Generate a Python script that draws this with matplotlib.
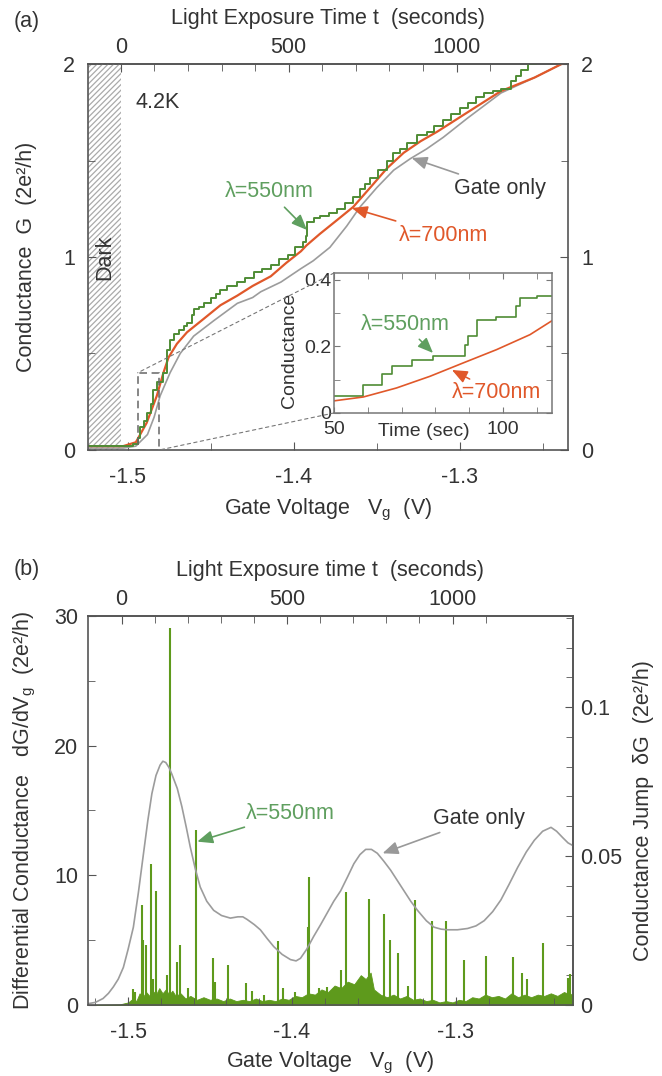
import numpy as np
import matplotlib
matplotlib.use("Agg")
import matplotlib.pyplot as plt
from matplotlib.patches import Rectangle, ConnectionPatch
from matplotlib.ticker import MultipleLocator

plt.rcParams['font.family'] = ['Liberation Sans', 'DejaVu Sans']
plt.rcParams['mathtext.fontset'] = 'custom'
plt.rcParams['mathtext.rm'] = 'Liberation Sans'
plt.rcParams['mathtext.it'] = 'Liberation Sans:italic'
plt.rcParams['hatch.linewidth'] = 0.9

# ---- panel (a): conductance vs gate voltage ----
gate_v = [-1.5238, -1.5026, -1.4950, -1.4880, -1.4840, -1.4804, -1.4744, -1.4683, -1.4602,
          -1.4481, -1.4339, -1.4247, -1.4198, -1.4077, -1.3956, -1.3883, -1.3782, -1.3681,
          -1.3600, -1.3499, -1.3398, -1.3297, -1.3200, -1.3100, -1.2953, -1.2752, -1.2550,
          -1.2388, -1.2300]
gate_g = [0.01, 0.01, 0.02, 0.08, 0.17, 0.28, 0.40, 0.50, 0.59,
          0.67, 0.76, 0.79, 0.82, 0.87, 0.94, 0.98, 1.05, 1.16,
          1.26, 1.36, 1.45, 1.51, 1.56, 1.62, 1.72, 1.85, 1.93,
          2.00, 2.03]

red_v = [-1.5238, -1.5026, -1.4950, -1.4885, -1.4824, -1.4784, -1.4753, -1.4703, -1.4642,
         -1.4541, -1.4441, -1.4339, -1.4247, -1.4138, -1.4044, -1.3956, -1.3923, -1.3842,
         -1.3741, -1.3641, -1.3539, -1.3438, -1.3338, -1.3236, -1.3135, -1.2953, -1.2752,
         -1.2550, -1.2388, -1.2300]
red_g = [0.02, 0.02, 0.04, 0.14, 0.28, 0.40, 0.48, 0.55, 0.61,
         0.68, 0.75, 0.80, 0.85, 0.90, 0.97, 1.03, 1.06, 1.12,
         1.19, 1.26, 1.36, 1.46, 1.54, 1.60, 1.65, 1.75, 1.86,
         1.93, 2.00, 2.03]

green_v = [-1.5238, -1.5026, -1.4970, -1.4935, -1.4925, -1.4900, -1.4885, -1.4860, -1.4844,
           -1.4820, -1.4784, -1.4764, -1.4744, -1.4720, -1.4690, -1.4660, -1.4642, -1.4610,
           -1.4602, -1.4570, -1.4541, -1.4500, -1.4470, -1.4441, -1.4400, -1.4339, -1.4290,
           -1.4238, -1.4190, -1.4138, -1.4090, -1.4036, -1.3990, -1.3944, -1.3925, -1.3919,
           -1.3880, -1.3842, -1.3790, -1.3741, -1.3690, -1.3641, -1.3600, -1.3570, -1.3539,
           -1.3490, -1.3438, -1.3400, -1.3358, -1.3320, -1.3256, -1.3200, -1.3156, -1.3100,
           -1.3055, -1.3000, -1.2953, -1.2900, -1.2853, -1.2800, -1.2752, -1.2691, -1.2660,
           -1.2630, -1.2590, -1.2540]
green_g = [0.02, 0.02, 0.03, 0.06, 0.12, 0.15, 0.19, 0.24, 0.31,
           0.35, 0.40, 0.52, 0.57, 0.60, 0.62, 0.64, 0.66, 0.70,
           0.73, 0.74, 0.76, 0.79, 0.81, 0.83, 0.85, 0.87, 0.89,
           0.92, 0.94, 0.96, 0.99, 1.01, 1.05, 1.08, 1.11, 1.18,
           1.20, 1.21, 1.23, 1.25, 1.28, 1.31, 1.35, 1.38, 1.41,
           1.45, 1.50, 1.54, 1.56, 1.59, 1.63, 1.65, 1.68, 1.71,
           1.74, 1.77, 1.80, 1.83, 1.85, 1.86, 1.87, 1.91, 1.94,
           1.97, 2.00, 2.03]

# inset: conductance vs exposure time (seconds)
ins_green_t = [49, 58.7, 64.1, 67.1, 73.0, 79.4, 86.3, 88.8, 89.7, 92.2, 98.0, 104.0, 105.0, 110.0, 115]
ins_green_g = [0.050, 0.083, 0.118, 0.140, 0.160, 0.170, 0.172, 0.205, 0.230, 0.280, 0.287, 0.320, 0.345, 0.350, 0.352]
ins_red_t = [49, 58.7, 68.5, 78.4, 88.2, 98.1, 108.0, 115]
ins_red_g = [0.035, 0.048, 0.075, 0.110, 0.150, 0.190, 0.235, 0.280]

# ---- panel (b): differential conductance ----
gate_dv = [-1.5245, -1.5200, -1.5153, -1.5120, -1.5090, -1.5060, -1.5029, -1.5000, -1.4968,
           -1.4937, -1.4906, -1.4880, -1.4855, -1.4830, -1.4805, -1.4788, -1.4770, -1.4750,
           -1.4733, -1.4700, -1.4672, -1.4645, -1.4621, -1.4590, -1.4560, -1.4520, -1.4478,
           -1.4430, -1.4376, -1.4330, -1.4300, -1.4274, -1.4230, -1.4193, -1.4150, -1.4111,
           -1.4060, -1.4009, -1.3975, -1.3948, -1.3910, -1.3867, -1.3825, -1.3785, -1.3745,
           -1.3703, -1.3660, -1.3622, -1.3585, -1.3550, -1.3515, -1.3479, -1.3440, -1.3398,
           -1.3357, -1.3316, -1.3275, -1.3234, -1.3180, -1.3133, -1.3090, -1.3051, -1.2990,
           -1.2928, -1.2877, -1.2827, -1.2775, -1.2725, -1.2675, -1.2623, -1.2570, -1.2521,
           -1.2470, -1.2419, -1.2385, -1.2347, -1.2315, -1.2286]
gate_dg = [0.1, 0.2, 0.5, 0.9, 1.4, 2.0, 2.9, 4.3, 6.0,
           8.7, 11.7, 14.2, 16.3, 17.7, 18.5, 18.8, 18.7, 18.3,
           17.8, 16.7, 15.3, 13.7, 12.2, 10.5, 9.1, 8.0, 7.3,
           6.9, 6.7, 6.8, 6.8, 6.6, 6.2, 5.8, 5.1, 4.5,
           3.9, 3.5, 3.4, 3.6, 4.3, 5.3, 6.2, 7.1, 8.0,
           8.8, 9.9, 10.9, 11.6, 12.0, 12.0, 11.7, 11.1, 10.4,
           9.6, 8.8, 8.0, 7.3, 6.5, 6.0, 5.85, 5.8, 5.8,
           5.9, 6.1, 6.5, 7.2, 8.1, 9.3, 10.6, 11.8, 12.7,
           13.4, 13.7, 13.4, 12.9, 12.5, 12.3]

spike_v = [-1.4971, -1.4955, -1.4916, -1.4910, -1.4890, -1.4859, -1.4849, -1.4831, -1.4763,
           -1.4747, -1.4702, -1.4682, -1.4637, -1.4584, -1.4482, -1.4468, -1.4393, -1.4280,
           -1.4243, -1.4172, -1.4087, -1.4054, -1.3979, -1.3903, -1.3897, -1.3835, -1.3785,
           -1.3703, -1.3669, -1.3530, -1.3438, -1.3401, -1.3350, -1.3294, -1.3251, -1.3143,
           -1.3061, -1.2953, -1.2817, -1.2653, -1.2596, -1.2566, -1.2470, -1.2317, -1.2303]
spike_h = [1.2, 1.0, 7.7, 5.0, 4.6, 10.9, 2.0, 8.8, 2.3,
           29.1, 3.3, 4.6, 1.3, 13.5, 3.6, 1.8, 3.1, 1.7,
           1.1, 0.8, 4.9, 1.3, 1.0, 6.0, 9.9, 1.3, 1.4,
           2.7, 8.7, 8.2, 7.05, 5.0, 4.0, 1.5, 8.1, 6.5,
           6.5, 3.5, 3.8, 3.7, 2.5, 2.0, 4.8, 2.1, 2.4]

floor_v = [-1.525, -1.505, -1.500, -1.497, -1.495, -1.493, -1.491, -1.489, -1.487, -1.485,
           -1.483, -1.481, -1.479, -1.477, -1.475, -1.473, -1.471, -1.468, -1.465, -1.462,
           -1.458, -1.454, -1.450, -1.446, -1.442, -1.438, -1.434, -1.430, -1.426, -1.422,
           -1.418, -1.414, -1.410, -1.406, -1.402, -1.398, -1.394, -1.390, -1.386, -1.382,
           -1.378, -1.374, -1.370, -1.366, -1.362, -1.358, -1.355, -1.352, -1.350, -1.346,
           -1.342, -1.338, -1.334, -1.330, -1.326, -1.322, -1.318, -1.314, -1.310, -1.306,
           -1.302, -1.298, -1.294, -1.290, -1.286, -1.282, -1.278, -1.274, -1.270, -1.266,
           -1.262, -1.258, -1.254, -1.250, -1.246, -1.242, -1.238, -1.234, -1.230, -1.227]
floor_h = [0.0, 0.05, 0.2, 0.5, 0.3, 0.9, 0.6, 1.0, 0.7, 1.1,
           0.8, 1.3, 0.9, 1.2, 0.8, 1.1, 0.7, 0.9, 0.5, 0.7,
           0.4, 0.6, 0.4, 0.5, 0.3, 0.5, 0.3, 0.4, 0.3, 0.5,
           0.3, 0.4, 0.3, 0.5, 0.4, 0.7, 0.6, 0.9, 0.8, 1.2,
           1.0, 1.5, 1.3, 1.8, 1.6, 2.3, 2.0, 2.5, 1.2, 0.8,
           0.6, 0.8, 0.5, 0.7, 0.4, 0.5, 0.3, 0.4, 0.2, 0.3,
           0.2, 0.4, 0.3, 0.6, 0.5, 0.8, 0.6, 0.7, 0.5, 0.9,
           0.6, 0.8, 0.6, 0.8, 0.7, 0.9, 0.7, 1.0, 0.8, 1.1]

# tick positions
time_major = [0, 500, 1000]
time_minor = [100, 200, 300, 400, 600, 700, 800, 900, 1100]

# gate voltage <-> exposure time (the gate is swept during illumination)
v_start = -1.504
v_rate = 0.000202  # V per second


def t_of_v(v):
    return (np.asarray(v) - v_start) / v_rate


def v_of_t(t):
    return v_start + np.asarray(t) * v_rate


c_green = '#4f8c35'
c_green_txt = '#5f9f5f'
c_red = '#e0582a'
c_gray = '#9c9c9c'
c_spike = '#5e9a1c'
c_axis = '#555555'
c_text = '#333333'
fs = 15.5
arrow = '-|>,head_length=0.6,head_width=0.25'

fig = plt.figure(figsize=(6.62, 10.76), dpi=100)


def style(ax, **kw):
    for s in ax.spines.values():
        s.set_color(c_axis)
        s.set_linewidth(1.2)
    ax.tick_params(which='both', direction='in', colors=c_axis, labelcolor=c_text,
                   labelsize=fs, **kw)
    ax.tick_params(which='major', length=6)
    ax.tick_params(which='minor', length=5)


# ================= panel (a) =================
ax1 = fig.add_axes([0.1329, 0.5818, 0.7251, 0.3587])
ax1.set_xlim(-1.5238, -1.2349)
ax1.set_ylim(0, 2)
ax1.axvspan(-1.5238, v_start, facecolor='none', edgecolor='#aaaaaa', hatch='//////', linewidth=0)
ax1.plot(gate_v, gate_g, color=c_gray, lw=1.2)
ax1.plot(red_v, red_g, color=c_red, lw=1.6)
ax1.step(green_v, green_g, where='post', color=c_green, lw=1.4)

ax1.set_xticks([-1.5, -1.4, -1.3])
ax1.set_xticklabels(['-1.5', '-1.4', '-1.3'])
ax1.xaxis.set_minor_locator(MultipleLocator(0.05))
ax1.yaxis.set_major_locator(MultipleLocator(1))
ax1.yaxis.set_minor_locator(MultipleLocator(0.5))
style(ax1, right=True, labelright=True)
ax1.tick_params(axis='x', pad=12.5)
ax1.tick_params(axis='y', pad=9.5)
ax1.set_xlabel(r'Gate Voltage   V$_\mathrm{g}$  (V)', fontsize=fs, color=c_text)
ax1.xaxis.set_label_coords(0.5, -0.122)
ax1.set_ylabel('Conductance  G  (2e²/h)', fontsize=fs, color=c_text)
ax1.yaxis.set_label_coords(-0.106, 0.5)

top1 = ax1.secondary_xaxis('top', functions=(t_of_v, v_of_t))
top1.set_xticks(time_major)
top1.set_xticks(time_minor, minor=True)
style(top1, pad=4)
top1.set_xlabel('Light Exposure Time t  (seconds)', fontsize=fs, color=c_text, labelpad=10)

ax1.text(-1.4955, 1.80, '4.2K', fontsize=fs, color=c_text, va='center', ha='left')
ax1.text(-1.5138, 1.0, 'Dark', fontsize=fs, color=c_text, rotation=90, va='center', ha='center')

ax1.annotate('λ=550nm', xy=(-1.392, 1.14), xytext=(-1.4146, 1.337), fontsize=fs,
             color=c_green_txt, ha='center', va='center',
             arrowprops=dict(arrowstyle=arrow, color=c_green_txt, lw=1.2, shrinkA=2, shrinkB=0))
ax1.annotate('λ=700nm', xy=(-1.365, 1.254), xytext=(-1.3099, 1.114), fontsize=fs,
             color=c_red, ha='center', va='center',
             arrowprops=dict(arrowstyle=arrow, color=c_red, lw=1.2, shrinkA=2, shrinkB=0))
ax1.annotate('Gate only', xy=(-1.329, 1.513), xytext=(-1.2758, 1.357), fontsize=fs,
             color=c_text, ha='center', va='center',
             arrowprops=dict(arrowstyle=arrow, color='#999999', lw=1.2, shrinkA=2, shrinkB=0))

# inset
ins = fig.add_axes([0.5045, 0.6162, 0.3293, 0.1301])
ins.set_facecolor('white')
ins.set_xlim(50, 114.5)
ins.set_ylim(0, 0.42)
ins.step(ins_green_t, ins_green_g, where='post', color=c_green, lw=1.2)
ins.plot(ins_red_t, ins_red_g, color=c_red, lw=1.2)
ins.xaxis.set_major_locator(MultipleLocator(50))
ins.xaxis.set_minor_locator(MultipleLocator(10))
ins.yaxis.set_minor_locator(MultipleLocator(0.1))
for s in ins.spines.values():
    s.set_color('#777777')
    s.set_linewidth(1.1)
ins.tick_params(which='both', direction='in', top=True, right=True, colors='#777777',
                labelcolor=c_text, labelsize=14, length=4)
ins.tick_params(axis='x', pad=6)
ins.tick_params(axis='y', pad=2)
ins.set_yticks([0, 0.2, 0.4])
ins.set_yticklabels(['0', '0.2', '0.4'])
ins.set_xlabel('Time (sec)', fontsize=14, color=c_text)
ins.xaxis.set_label_coords(0.41, -0.075)
ins.set_ylabel('Conductance', fontsize=14, color=c_text)
ins.yaxis.set_label_coords(-0.165, 0.45)
ins.annotate('λ=550nm', xy=(79.3, 0.18), xytext=(71.0, 0.264), fontsize=fs,
             color=c_green_txt, ha='center', va='center',
             arrowprops=dict(arrowstyle=arrow, color=c_green_txt, lw=1.1, shrinkA=1, shrinkB=0))
ins.annotate('λ=700nm', xy=(84.9, 0.129), xytext=(98.2, 0.06), fontsize=fs,
             color=c_red, ha='center', va='center',
             arrowprops=dict(arrowstyle=arrow, color=c_red, lw=1.1, shrinkA=1, shrinkB=0))

# zoom box and connectors
v_lo, v_hi = float(v_of_t(50)), float(v_of_t(114.5))
ax1.add_patch(Rectangle((v_lo, 0), v_hi - v_lo, 0.40, fill=False, ls=(0, (5, 3)),
                        lw=1.1, color='#666666', zorder=4))
for xa, xb in [((0, 1), (v_lo, 0.40)), ((0, 0), (v_hi, 0.0))]:
    con = ConnectionPatch(xyA=xa, coordsA=ins.transAxes, xyB=xb, coordsB=ax1.transData,
                          ls=(0, (3, 3)), lw=0.8, color='#777777')
    fig.add_artist(con)

# ================= panel (b) =================
ax2 = fig.add_axes([0.1329, 0.0660, 0.7326, 0.3615])
ax2.set_xlim(-1.5245, -1.2285)
ax2.set_ylim(0, 30)
ax2.fill_between(floor_v, 0, floor_h, color=c_spike, lw=0.6)
ax2.vlines(spike_v, 0, spike_h, color=c_spike, lw=1.5)
ax2.plot(gate_dv, gate_dg, color=c_gray, lw=1.2)

ax2.set_xticks([-1.5, -1.4, -1.3])
ax2.set_xticklabels(['-1.5', '-1.4', '-1.3'])
ax2.xaxis.set_minor_locator(MultipleLocator(0.02))
ax2.yaxis.set_major_locator(MultipleLocator(10))
ax2.yaxis.set_minor_locator(MultipleLocator(5))
style(ax2)
ax2.tick_params(axis='x', pad=12.5)
ax2.tick_params(axis='y', pad=7)
ax2.set_xlabel(r'Gate Voltage   V$_\mathrm{g}$  (V)', fontsize=fs, color=c_text)
ax2.xaxis.set_label_coords(0.5, -0.116)
ax2.set_ylabel(r'Differential Conductance   dG/dV$_\mathrm{g}$  (2e²/h)', fontsize=fs, color=c_text)
ax2.yaxis.set_label_coords(-0.103, 0.5)

k_jump = 0.1306 / 30
right2 = ax2.secondary_yaxis('right', functions=(lambda y: y * k_jump, lambda y: y / k_jump))
right2.yaxis.set_minor_locator(MultipleLocator(0.01))
right2.set_yticks([0, 0.05, 0.1])
right2.set_yticklabels(['0', '0.05', '0.1'])
style(right2, pad=5)
right2.set_ylabel('Conductance Jump  δG  (2e²/h)', fontsize=fs, color=c_text, labelpad=8)

top2 = ax2.secondary_xaxis('top', functions=(t_of_v, v_of_t))
top2.set_xticks(time_major)
top2.set_xticks(time_minor, minor=True)
style(top2, pad=4)
top2.set_xlabel('Light Exposure time t  (seconds)', fontsize=fs, color=c_text, labelpad=10)

ax2.annotate('λ=550nm', xy=(-1.4578, 12.6), xytext=(-1.4009, 14.8), fontsize=fs,
             color=c_green_txt, ha='center', va='center',
             arrowprops=dict(arrowstyle=arrow, color=c_green_txt, lw=1.2, shrinkA=2, shrinkB=0))
ax2.annotate('Gate only', xy=(-1.3447, 11.7), xytext=(-1.2859, 14.4), fontsize=fs,
             color=c_text, ha='center', va='center',
             arrowprops=dict(arrowstyle=arrow, color='#999999', lw=1.2, shrinkA=2, shrinkB=0))

fig.text(14 / 662, 1 - 22 / 1076, '(a)', fontsize=fs, color=c_text, va='center')
fig.text(14 / 662, 1 - 569 / 1076, '(b)', fontsize=fs, color=c_text, va='center')

fig.savefig('out.png', dpi=100)
